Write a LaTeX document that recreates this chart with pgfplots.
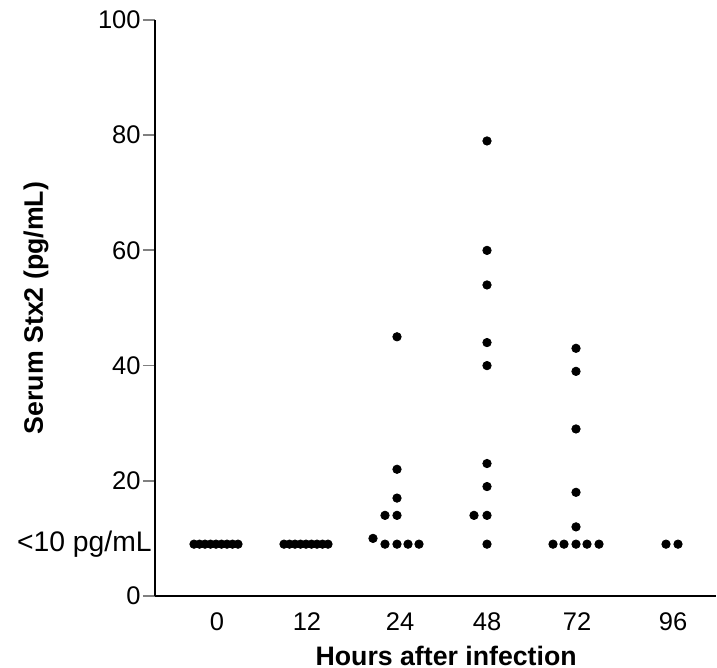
\documentclass[border=0pt]{standalone}
\usepackage{pgfplots}
\pgfplotsset{compat=1.18}
\usepackage{fontspec}
\setmainfont{Liberation Sans}
\begin{document}
\begin{tikzpicture}
\begin{axis}[
  scale only axis, width=280.5bp, height=288bp,
  xmin=155, xmax=716, ymin=0, ymax=100,
  axis x line*=bottom, axis y line*=left,
  axis line style={-, line width=1pt},
  xtick={217,307,400,487,577,673}, xticklabels={0,12,24,48,72,96},
  x tick style={draw=none},
  ytick={0,20,40,60,80,100},
  y tick style={line width=0.9pt},
  extra y ticks={9}, extra y tick labels={<10 pg/mL},
  extra y tick style={major tick length=0pt, yticklabel style={font=\fontsize{14.2}{16}\selectfont, inner sep=1.5bp}},
  tick align=outside, major tick length=6bp,
  /pgf/number format/assume math mode=true,
  tick label style={font=\fontsize{12.8}{15}\selectfont},
  yticklabel style={inner sep=1bp},
  xticklabel style={inner sep=2bp},
  xlabel={Hours after infection}, ylabel={Serum Stx2 (pg/mL)},
  every axis y label/.style={at={(axis description cs:-0.212,0.5)}, rotate=90, anchor=center, font=\bfseries\fontsize{13.4}{15}\selectfont},
  every axis x label/.style={at={(axis description cs:0.519,-0.104)}, anchor=center, font=\bfseries\fontsize{13.4}{15}\selectfont},
  clip=false,
]
\addplot[only marks, mark=*, mark size=2.1bp, black] coordinates {
(194,9) (199.5,9) (205,9) (210.5,9) (216,9) (221.5,9) (227,9) (232.5,9) (238,9)
};
\addplot[only marks, mark=*, mark size=2.1bp, black] coordinates {
(284,9) (289.5,9) (295,9) (300.5,9) (306,9) (311.5,9) (317,9) (322.5,9) (328,9)
};
\addplot[only marks, mark=*, mark size=2.1bp, black] coordinates {
(373,10) (385,9) (397,9) (408,9) (419,9) (385,14) (397,14) (397,17) (397,22) (397,45)
};
\addplot[only marks, mark=*, mark size=2.1bp, black] coordinates {
(487,79) (487,60) (487,54) (487,44) (487,40) (487,23) (487,19) (474,14) (487,14) (487,9)
};
\addplot[only marks, mark=*, mark size=2.1bp, black] coordinates {
(576,43) (576,39) (576,29) (576,18) (576,12) (553,9) (564,9) (576,9) (587,9) (599,9)
};
\addplot[only marks, mark=*, mark size=2.1bp, black] coordinates {
(666,9) (678,9)
};
\end{axis}
\pgfresetboundingbox
\path[use as bounding box] (-77.5bp,-36bp) rectangle (281bp,298bp);
\end{tikzpicture}
\end{document}
